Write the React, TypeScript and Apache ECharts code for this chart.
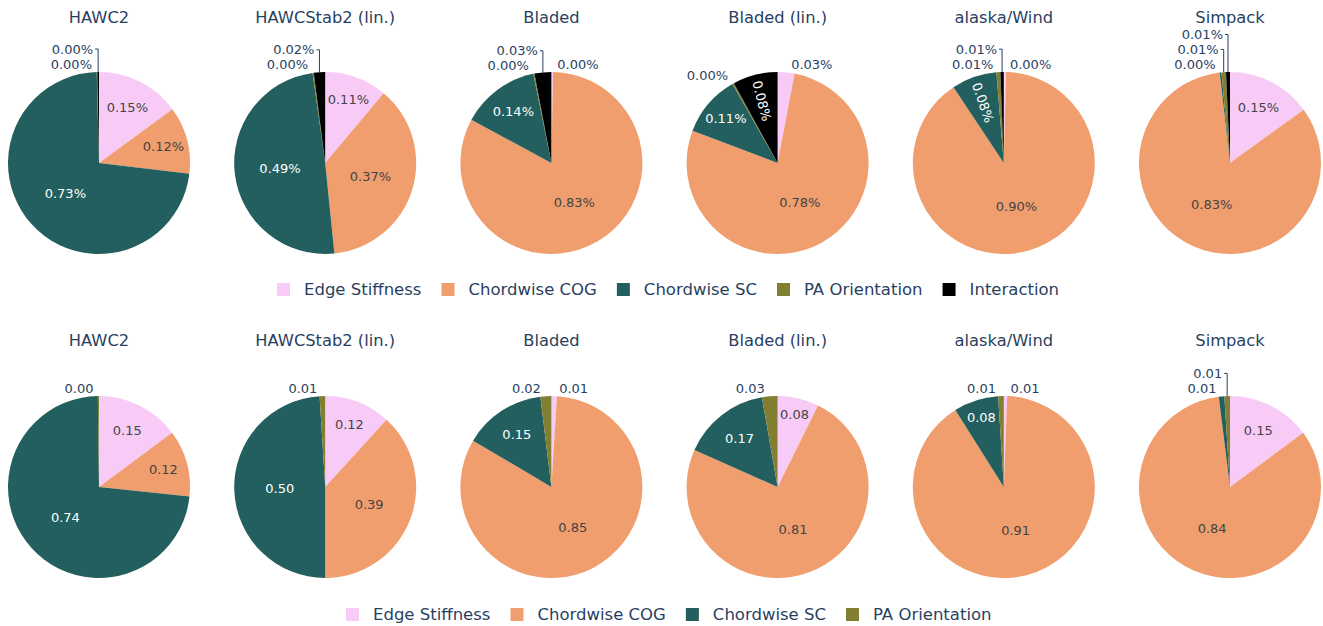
import React, { useEffect, useRef } from "react";
import * as echarts from "echarts";

// ---- data ----
const TOP_CATEGORIES = ["Edge Stiffness", "Chordwise COG", "Chordwise SC", "PA Orientation", "Interaction"];
const BOTTOM_CATEGORIES = ["Edge Stiffness", "Chordwise COG", "Chordwise SC", "PA Orientation"];
const MODELS = ["HAWC2", "HAWCStab2 (lin.)", "Bladed", "Bladed (lin.)", "alaska/Wind", "Simpack"];

// top row (with interaction), values shown with "%"
const TOP_HAWC2 = [0.15, 0.12, 0.73, 0.001, 0.003];
const TOP_HAWCSTAB2 = [0.11, 0.37, 0.49, 0.002, 0.02];
const TOP_BLADED = [0.003, 0.83, 0.14, 0.002, 0.03];
const TOP_BLADED_LIN = [0.03, 0.78, 0.11, 0.003, 0.08];
const TOP_ALASKA = [0.004, 0.90, 0.08, 0.007, 0.006];
const TOP_SIMPACK = [0.15, 0.83, 0.003, 0.008, 0.007];

// bottom row (first order only)
const BOT_HAWC2 = [0.15, 0.12, 0.74, 0.002];
const BOT_HAWCSTAB2 = [0.12, 0.39, 0.50, 0.01];
const BOT_BLADED = [0.01, 0.85, 0.15, 0.02];
const BOT_BLADED_LIN = [0.08, 0.81, 0.17, 0.03];
const BOT_ALASKA = [0.006, 0.91, 0.08, 0.01];
const BOT_SIMPACK = [0.15, 0.84, 0.01, 0.01];

const TOP_ROW = [TOP_HAWC2, TOP_HAWCSTAB2, TOP_BLADED, TOP_BLADED_LIN, TOP_ALASKA, TOP_SIMPACK];
const BOTTOM_ROW = [BOT_HAWC2, BOT_HAWCSTAB2, BOT_BLADED, BOT_BLADED_LIN, BOT_ALASKA, BOT_SIMPACK];

// ---- style ----
const COLORS = ["#f8cbf7", "#f09e6e", "#235f5e", "#827f32", "#000000"];
const INSIDE_TEXT = ["#444444", "#444444", "#ffffff", "#ffffff", "#ffffff"];
const TEXT = "#2a3f5f";
const FONT = "'DejaVu Sans', Verdana, sans-serif";
const LABEL_SIZE = 13;
const LABEL_H = 15;

const COL_X0 = 99;
const COL_DX = 226.2;
const ROW_Y = [163, 487];
const TITLE_Y = [17, 340];
const LEGEND_Y = [289, 614];
const LEGEND_LEFT = [272, 341];
const RADIUS = 91;
const INSIDE_MIN = 0.05;

type Plan = { x: number; y: number; align: string; line: number[][] | null; radial: boolean };

function labelText(v: number, row: number) {
  return row === 0 ? v.toFixed(2) + "%" : v.toFixed(2);
}

// plotly-like label placement computed from the slice angles
function planLabels(vals: number[], row: number, cx: number, cy: number, measure: (s: string) => number) {
  const total = vals.reduce((a, b) => a + b, 0);
  let acc = 0;
  const outside: { k: number; ax: number; ay: number; right: boolean }[] = [];
  const plan: Record<number, Plan> = {};
  vals.forEach((v, k) => {
    const frac = v / total;
    const phi = (acc + frac / 2) * Math.PI * 2;
    acc += frac;
    const sx = Math.sin(phi);
    const sy = -Math.cos(phi);
    if (v < INSIDE_MIN) {
      outside.push({ k, ax: cx + RADIUS * sx, ay: cy + RADIUS * sy, right: sx >= 0 });
      return;
    }
    const w = measure(labelText(v, row));
    const h = LABEL_H;
    const half = Math.PI * Math.min(frac, 0.5);
    const rIns = Math.min(1 / (1 + 1 / Math.sin(half)), 0.5);
    const diag = Math.sqrt(w * w + h * h);
    let rc: number;
    let radial = false;
    if (rIns * RADIUS * 2 >= diag) {
      rc = 1 - rIns;
    } else {
      radial = true;
      const rr = RADIUS - 6;
      const a = w / h;
      const q = a + 1 / (2 * Math.tan(half));
      const s = rr * Math.min(1 / (Math.sqrt(q * q + 0.5) + q), 1 / (Math.sqrt(a * a + 0.5) + a));
      const b = s / rr;
      rc = Math.sqrt(1 - b * b) - a * b;
    }
    plan[k] = { x: cx + RADIUS * rc * sx, y: cy + RADIUS * rc * sy, align: "center", line: null, radial };
  });
  [true, false].forEach((side) => {
    const group = outside.filter((it) => it.right === side).sort((a, b) => b.ay - a.ay);
    let prevY = Infinity;
    group.forEach((it) => {
      let ny = it.ay - 8;
      let pushed = false;
      if (ny > prevY - 15) {
        ny = prevY - 15;
        pushed = true;
      }
      prevY = ny;
      const dir = side ? 1 : -1;
      plan[it.k] = {
        x: it.ax + dir * 5,
        y: ny,
        align: side ? "left" : "right",
        line: pushed ? [[it.ax, it.ay], [it.ax, ny], [it.ax + dir * 3, ny]] : null,
        radial: false,
      };
    });
  });
  return plan;
}

function buildSeries(rowValues: number[][], cats: string[], row: number, measure: (s: string) => number) {
  return rowValues.map((vals, i) => {
    const cx = COL_X0 + i * COL_DX;
    const cy = ROW_Y[row];
    const plan = planLabels(vals, row, cx, cy, measure);
    return {
      type: "pie",
      startAngle: 90,
      clockwise: true,
      center: [cx, cy],
      radius: [0, RADIUS],
      avoidLabelOverlap: false,
      emphasis: { disabled: true },
      label: {
        show: true,
        fontSize: LABEL_SIZE,
        fontFamily: FONT,
        color: TEXT,
      },
      labelLine: { length: 6, length2: 3, lineStyle: { color: TEXT, width: 1 } },
      labelLayout: (p: any) => {
        const pl = plan[p.dataIndex];
        if (!pl) return { hideOverlap: false, moveOverlap: false };
        const out: any = {
          x: pl.x,
          y: pl.y,
          align: pl.align,
          verticalAlign: "middle",
          hideOverlap: false,
          moveOverlap: false,
        };
        if (pl.line) out.labelLinePoints = pl.line;
        return out;
      },
      data: vals.map((v, k) => {
        const inside = v >= INSIDE_MIN;
        const txt = labelText(v, row);
        const pl = plan[k];
        return {
          name: cats[k],
          value: v,
          itemStyle: { color: COLORS[k] },
          label: {
            position: inside ? "inside" : "outside",
            color: inside ? INSIDE_TEXT[k] : TEXT,
            rotate: pl && pl.radial ? "radial" : 0,
            formatter: () => txt,
          },
          labelLine: { show: !inside && !!(pl && pl.line) },
        };
      }),
    };
  });
}

export default function App() {
  const ref = useRef<HTMLDivElement>(null);
  useEffect(() => {
    if (!ref.current) return;
    const ctx = document.createElement("canvas").getContext("2d");
    const measure = (s: string) => {
      if (!ctx) return s.length * 8;
      ctx.font = `${LABEL_SIZE}px 'DejaVu Sans'`;
      return ctx.measureText(s).width;
    };
    const chart = echarts.init(ref.current, undefined, { renderer: "svg" });
    const titles = [0, 1].flatMap((row) =>
      MODELS.map((m, i) => ({
        type: "text",
        x: COL_X0 + i * COL_DX,
        y: TITLE_Y[row],
        style: {
          text: m,
          fill: TEXT,
          fontSize: 16.3,
          fontFamily: FONT,
          align: "center",
          verticalAlign: "middle",
          textAlign: "center",
          textVerticalAlign: "middle",
        },
      }))
    );
    const legendBase = {
      orient: "horizontal",
      padding: 5,
      icon: "rect",
      itemWidth: 13,
      itemHeight: 13,
      itemGap: 20,
      textStyle: { fontSize: 16.5, fontFamily: FONT, color: TEXT, padding: [0, 0, 0, 9] },
    };
    chart.setOption({
      animation: false,
      backgroundColor: "#ffffff",
      legend: [
        { ...legendBase, data: TOP_CATEGORIES, left: LEGEND_LEFT[0], top: LEGEND_Y[0] - 13 },
        { ...legendBase, data: BOTTOM_CATEGORIES, left: LEGEND_LEFT[1], top: LEGEND_Y[1] - 13 },
      ],
      graphic: titles,
      series: [
        ...buildSeries(TOP_ROW, TOP_CATEGORIES, 0, measure),
        ...buildSeries(BOTTOM_ROW, BOTTOM_CATEGORIES, 1, measure),
      ],
    });
    return () => chart.dispose();
  }, []);
  return (
    <div
      ref={ref}
      style={{ position: "fixed", left: 0, top: 0, width: 1323, height: 626 }}
    />
  );
}
